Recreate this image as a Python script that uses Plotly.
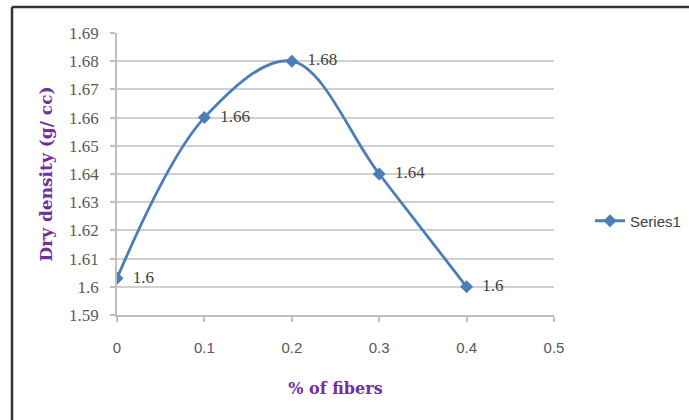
import plotly.graph_objects as go

fibers = [0, 0.1, 0.2, 0.3, 0.4]
dry_density = [1.603, 1.66, 1.68, 1.64, 1.60]
point_labels = ["1.6", "1.66", "1.68", "1.64", "1.6"]
y_ticks = [1.59, 1.60, 1.61, 1.62, 1.63, 1.64, 1.65, 1.66, 1.67, 1.68, 1.69]
y_tick_text = ["1.59", "1.6", "1.61", "1.62", "1.63", "1.64", "1.65", "1.66", "1.67", "1.68", "1.69"]
x_ticks = [0, 0.1, 0.2, 0.3, 0.4, 0.5]
x_tick_text = ["0", "0.1", "0.2", "0.3", "0.4", "0.5"]

blue = "#4A7EBB"
purple = "#7030A0"

fig = go.Figure()
fig.add_trace(go.Scatter(
    x=fibers, y=dry_density,
    mode="lines+markers+text",
    name="Series1",
    line=dict(color=blue, width=2.8, shape="spline", smoothing=1.0),
    marker=dict(symbol="diamond", size=10, color=blue),
    text=["  " + t for t in point_labels],
    textposition="middle right",
    textfont=dict(family="Liberation Serif, DejaVu Serif, serif", size=17, color="#404040"),
))

L, R, T, B = 117, 135, 33, 105
W, H = 689, 420
pw, ph = W - L - R, H - T - B

def px_to_paper_x(px):
    return (px - L) / pw

def px_to_paper_y(py):
    return (H - B - py) / ph

fig.update_layout(
    width=W, height=H,
    margin=dict(l=L, r=R, t=T, b=B, autoexpand=False),
    paper_bgcolor="white", plot_bgcolor="white",
    showlegend=True,
    legend=dict(
        x=px_to_paper_x(590), y=px_to_paper_y(221),
        xanchor="left", yanchor="middle",
        font=dict(family="Liberation Sans Narrow, Liberation Sans, sans-serif", size=15, color="#404040"),
        bgcolor="rgba(0,0,0,0)", itemwidth=30,
    ),
    xaxis=dict(
        range=[0, 0.5], tickvals=x_ticks, ticktext=x_tick_text,
        showgrid=False, zeroline=False,
        showline=True, linecolor="#BFBFBF", linewidth=1.5,
        ticks="outside", ticklen=5, tickcolor="#BFBFBF", tickwidth=1.5,
        ticklabelstandoff=13,
        tickfont=dict(family="Liberation Sans, Arial, sans-serif", size=15, color="#595959"),
        title=dict(text="% of fibers", standoff=28,
                   font=dict(family="DejaVu Serif, Liberation Serif, serif", size=16, color=purple, weight="bold")),
    ),
    yaxis=dict(
        range=[1.59, 1.69], tickvals=y_ticks, ticktext=y_tick_text,
        showgrid=True, gridcolor="#D0D0D0", gridwidth=1.8,
        zeroline=False,
        showline=True, linecolor="#BFBFBF", linewidth=1.5,
        ticks="outside", ticklen=5, tickcolor="#BFBFBF", tickwidth=1.5,
        ticklabelstandoff=8,
        tickfont=dict(family="Liberation Serif, DejaVu Serif, serif", size=17, color="#595959"),
        title=dict(text="Dry density (g/ cc)", standoff=12,
                   font=dict(family="DejaVu Serif, Liberation Serif, serif", size=17, color=purple, weight="bold")),
    ),
    shapes=[
        dict(type="line", xref="paper", yref="paper",
             x0=px_to_paper_x(12), x1=px_to_paper_x(700),
             y0=px_to_paper_y(7), y1=px_to_paper_y(7),
             line=dict(color="#333333", width=2.5)),
        dict(type="line", xref="paper", yref="paper",
             x0=px_to_paper_x(12), x1=px_to_paper_x(12),
             y0=px_to_paper_y(7), y1=px_to_paper_y(430),
             line=dict(color="#333333", width=2.5)),
    ],
)

fig.write_html("out.html")
